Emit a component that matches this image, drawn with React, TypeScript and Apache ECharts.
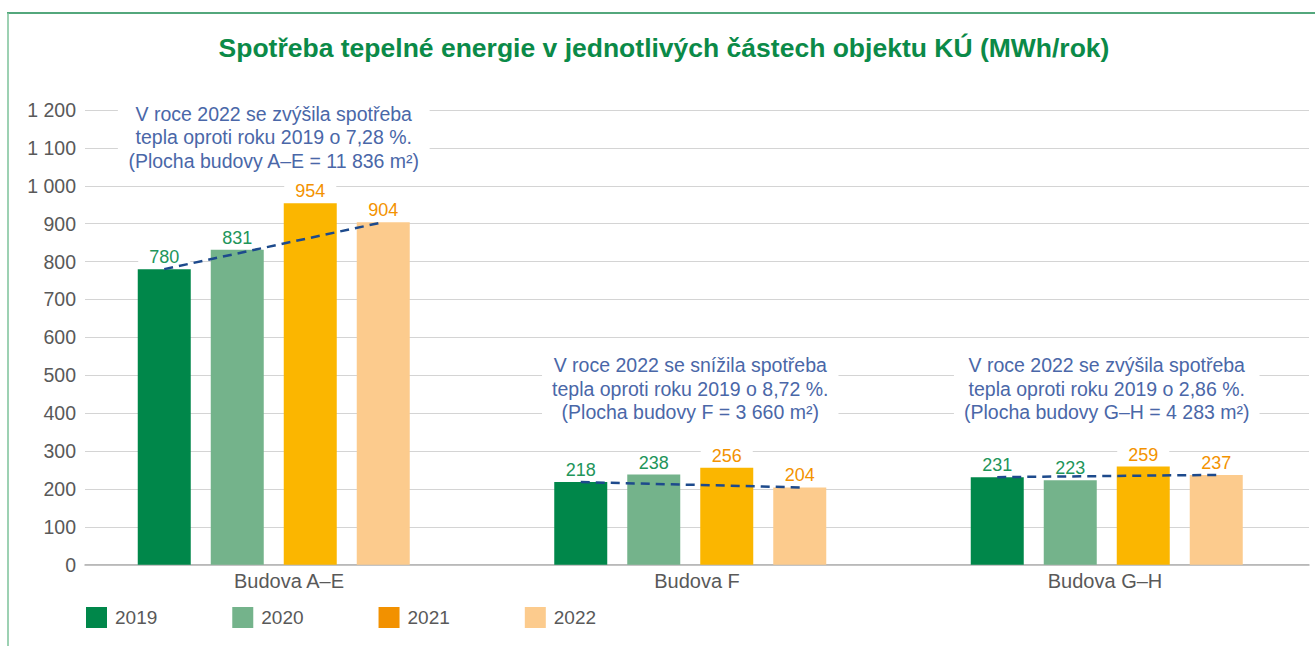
import React, { useEffect, useRef } from "react";
import * as echarts from "echarts";

const categories = ["Budova A–E", "Budova F", "Budova G–H"];
const years = ["2019", "2020", "2021", "2022"];
const values2019 = [780, 218, 231];
const values2020 = [831, 238, 223];
const values2021 = [954, 256, 259];
const values2022 = [904, 204, 237];
const seriesValues = [values2019, values2020, values2021, values2022];
const barColors = ["#00874a", "#74b38b", "#fbb600", "#fccb8d"];
const legendColors = ["#00874a", "#74b38b", "#f29100", "#fccb8d"];
const labelColors = ["#21955a", "#21955a", "#f39200", "#f39200"];
const yTicks = [0, 1200, 100];
const titleText = "Spotřeba tepelné energie v jednotlivých částech objektu KÚ (MWh/rok)";
const annotationTexts = [
  ["V roce 2022 se zvýšila spotřeba", "tepla oproti roku 2019 o 7,28 %.", "(Plocha budovy A–E = 11 836 m²)"],
  ["V roce 2022 se snížila spotřeba", "tepla oproti roku 2019 o 8,72 %.", "(Plocha budovy F = 3 660 m²)"],
  ["V roce 2022 se zvýšila spotřeba", "tepla oproti roku 2019 o 2,86 %.", "(Plocha budovy G–H = 4 283 m²)"],
];
const annotationLevels = [1128, 465, 465];

const FONT = "'Liberation Sans', Arial, sans-serif";
const BAR_W = 53;
const BAR_GAP = 20;

export default function App() {
  const ref = useRef<HTMLDivElement>(null);
  useEffect(() => {
    if (!ref.current) return;
    const chart = echarts.init(ref.current, null, { renderer: "svg" });
    const fmt = (v: number) => String(v).replace(/\B(?=(\d{3})+(?!\d))/g, " ");
    const trendData = categories.map((_, i) => [i, values2019[i], values2022[i]]);
    const offset = 1.5 * (BAR_W + BAR_GAP);

    const barSeries: any[] = years.map((y, si) => ({
      type: "bar",
      name: y,
      xAxisIndex: 1,
      yAxisIndex: 1,
      data: seriesValues[si],
      barWidth: BAR_W,
      barGap: (BAR_GAP / BAR_W) * 100 + "%",
      itemStyle: { color: barColors[si] },
      label: {
        show: true,
        position: "top",
        distance: 3,
        color: labelColors[si],
        fontSize: 18,
        fontFamily: FONT,
        backgroundColor: "#ffffff",
        padding: [1, 11, 0, 11],
      },
      z: 3,
    }));

    const option: any = {
      animation: false,
      textStyle: { fontFamily: FONT },
      graphic: [
        {
          type: "line",
          shape: { x1: 7, y1: 13, x2: 1315, y2: 13 },
          style: { stroke: "#1a8a50", lineWidth: 1.5 },
        },
        {
          type: "line",
          shape: { x1: 8, y1: 13, x2: 8, y2: 646 },
          style: { stroke: "#7cc29a", lineWidth: 1.5 },
        },
        {
          type: "text",
          x: 664,
          y: 48,
          style: {
            text: titleText,
            fill: "#0b8a48",
            font: `bold 26.5px ${FONT}`,
            textAlign: "center",
            textVerticalAlign: "middle",
          },
        },
      ],
      legend: {
        left: 86,
        top: 607,
        padding: 0,
        itemWidth: 21,
        itemHeight: 21,
        itemGap: 75,
        icon: "rect",
        textStyle: { fontSize: 19, color: "#595959", fontFamily: FONT, padding: [0, 0, 0, 3] },
        data: years.map((y, i) => ({ name: y, itemStyle: { color: legendColors[i] } })),
      },
      grid: [
        { left: 85, right: 6, top: 110, bottom: 81.3, containLabel: false },
        { left: 65.5, width: 1251, top: 110, bottom: 81.3, containLabel: false },
      ],
      xAxis: [
        {
          type: "category",
          gridIndex: 0,
          data: categories,
          axisLine: { show: true, lineStyle: { color: "#b0b0b0", width: 1.5 } },
          axisTick: { show: false },
          axisLabel: { fontSize: 20, color: "#595959", margin: 6, fontFamily: FONT },
        },
        {
          type: "category",
          gridIndex: 1,
          data: categories,
          show: false,
        },
      ],
      yAxis: [
        {
          type: "value",
          gridIndex: 0,
          min: yTicks[0],
          max: yTicks[1],
          interval: yTicks[2],
          axisLine: { show: false },
          axisTick: { show: false },
          axisLabel: { fontSize: 19.5, color: "#595959", margin: 9, formatter: fmt, fontFamily: FONT },
          splitLine: { lineStyle: { color: "#d4d4d4", width: 1 } },
        },
        {
          type: "value",
          gridIndex: 1,
          min: yTicks[0],
          max: yTicks[1],
          interval: yTicks[2],
          show: false,
          splitLine: { show: false },
        },
      ],
      series: [
        ...barSeries,
        {
          type: "custom",
          name: "trend",
          xAxisIndex: 1,
          yAxisIndex: 1,
          data: trendData,
          encode: { x: 0, y: [1, 2] },
          z: 10,
          silent: true,
          renderItem: (params: any, api: any) => {
            const a = api.coord([api.value(0), api.value(1)]);
            const b = api.coord([api.value(0), api.value(2)]);
            return {
              type: "line",
              shape: { x1: a[0] - offset, y1: a[1], x2: b[0] + offset, y2: b[1] },
              style: { stroke: "#1d4a8c", lineWidth: 2.5, lineDash: [9, 6], fill: null },
            };
          },
        },
        {
          type: "scatter",
          name: "notes",
          xAxisIndex: 1,
          yAxisIndex: 1,
          silent: true,
          symbol: "rect",
          symbolSize: 1,
          itemStyle: { color: "rgba(0,0,0,0)", opacity: 1 },
          z: 4,
          data: annotationTexts.map((_, i) => [i, annotationLevels[i]]),
          label: {
            show: true,
            position: "inside",
            formatter: (p: any) => annotationTexts[p.dataIndex].join("\n"),
            color: "#4a67a8",
            opacity: 1,
            fontSize: 19.5,
            lineHeight: 23.5,
            fontFamily: FONT,
            align: "center",
            verticalAlign: "middle",
            backgroundColor: "#ffffff",
            padding: [0, 10],
          },
        },
      ],
    };
    chart.setOption(option);
    return () => chart.dispose();
  }, []);
  return (
    <div
      ref={ref}
      style={{ position: "absolute", left: 0, top: 0, width: 1315, height: 646, background: "#fff" }}
    />
  );
}
